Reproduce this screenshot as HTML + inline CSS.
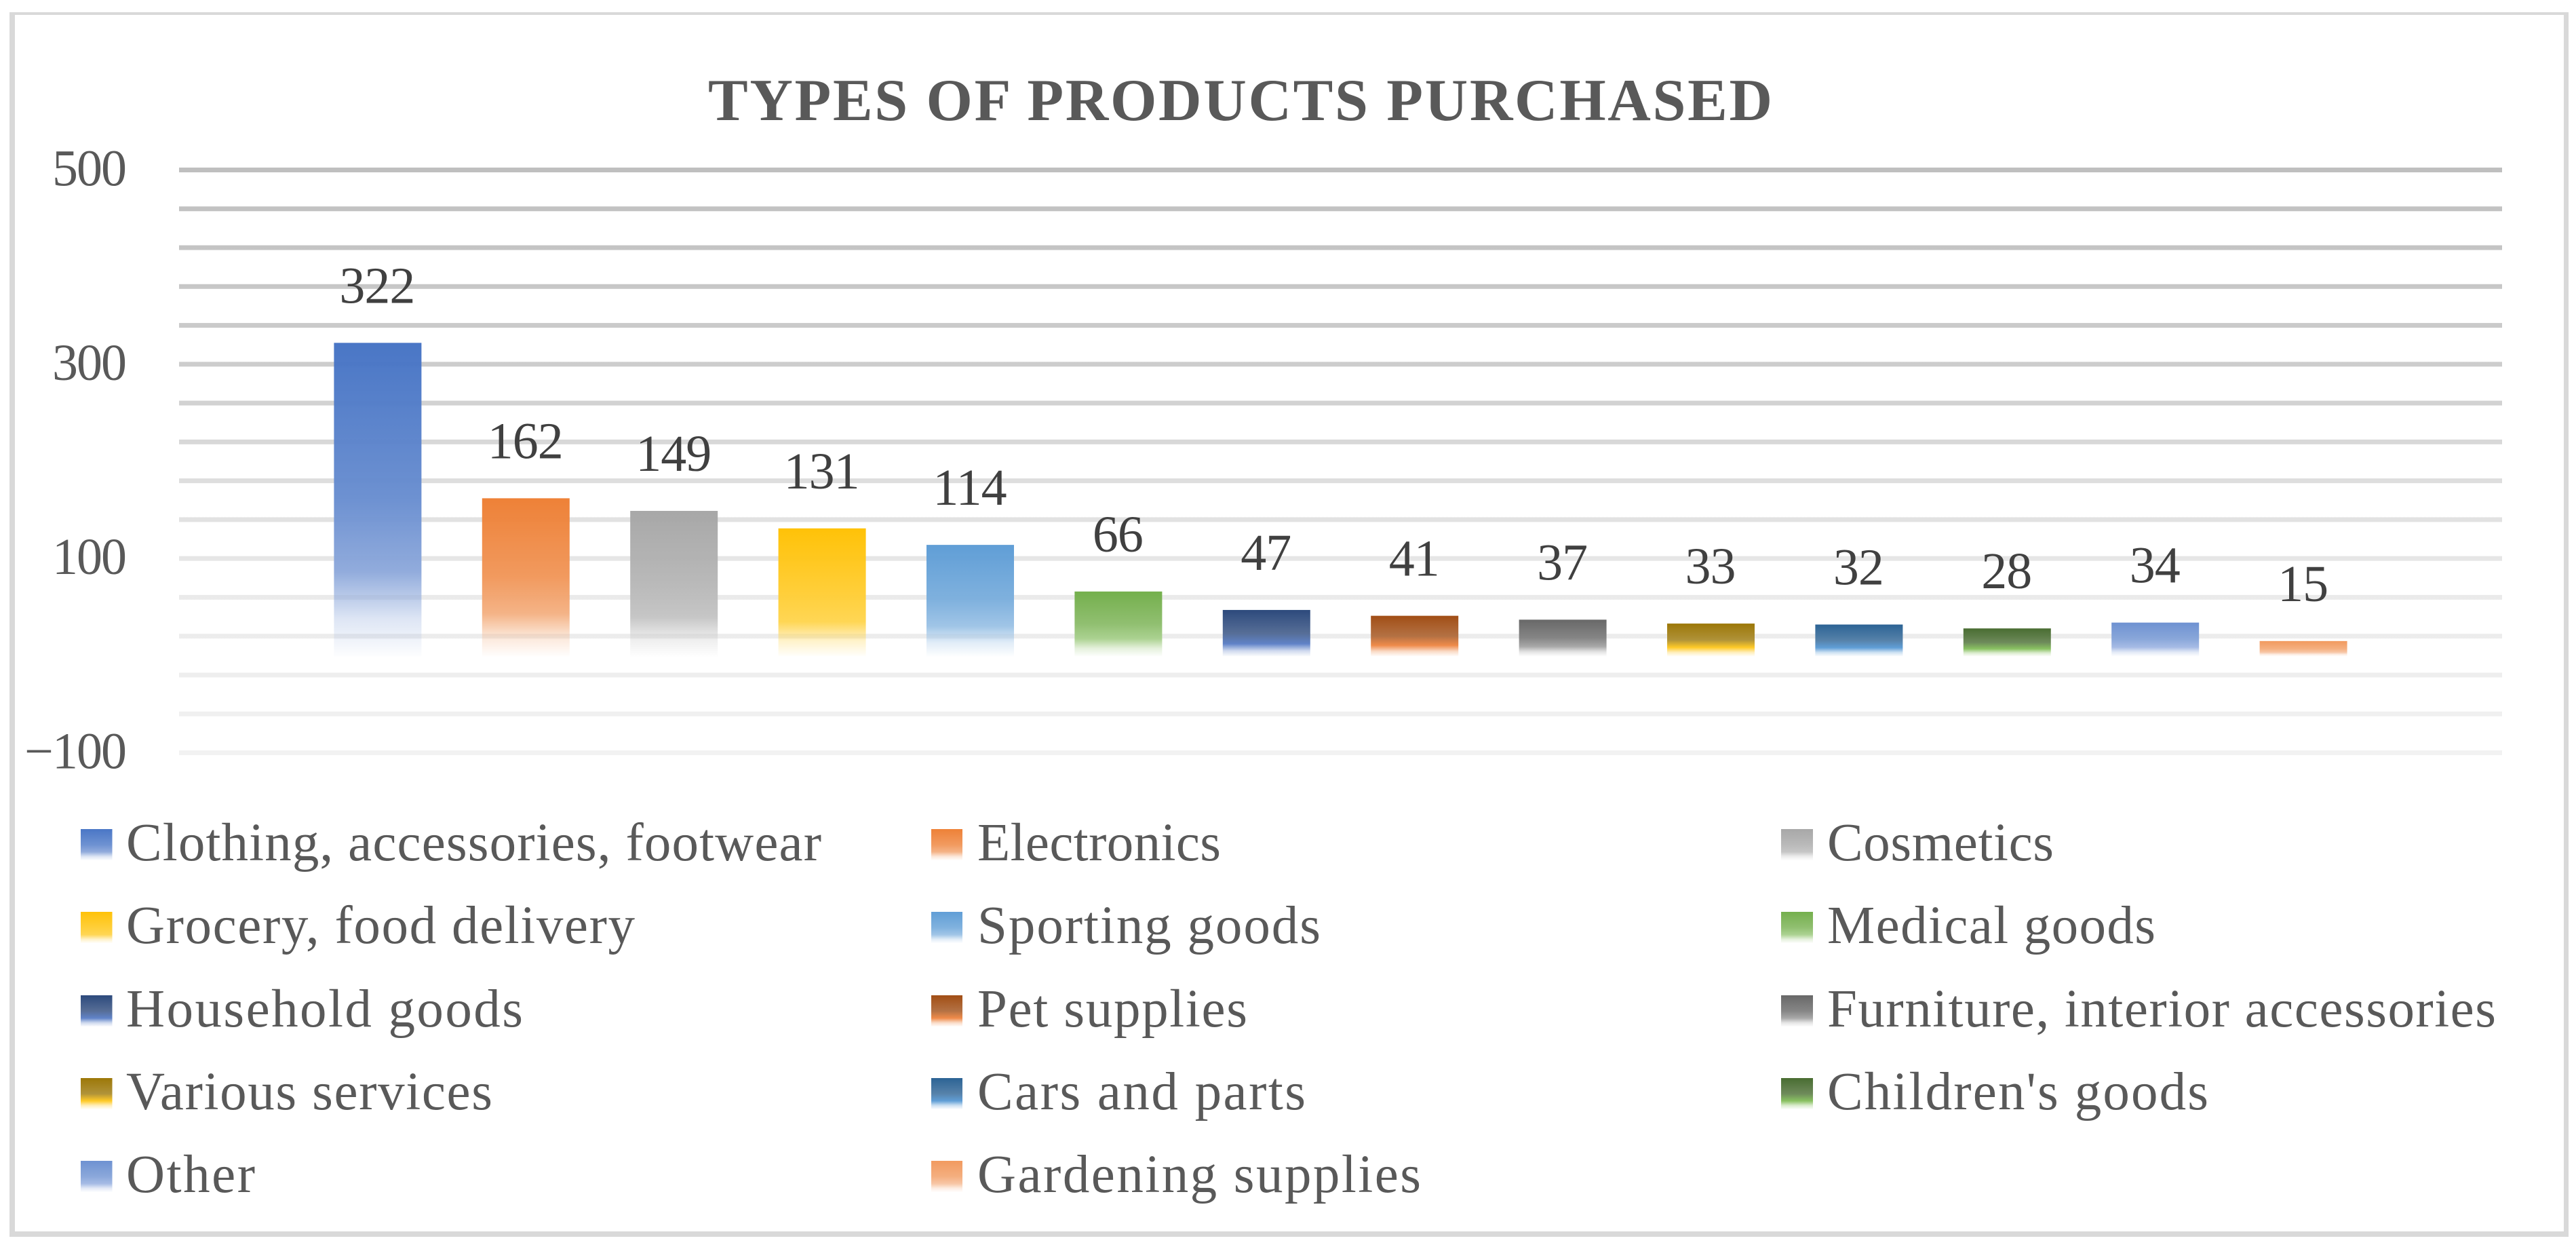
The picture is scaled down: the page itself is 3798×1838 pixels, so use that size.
<!DOCTYPE html>
<html lang="en">
<head>
<meta charset="utf-8">
<title>Types of Products Purchased</title>
<style>
html,body{margin:0;padding:0;background:#fff;}
svg{display:block;font-family:"Liberation Serif",serif;}
.lg{font-size:79px;fill:#595959;}
</style>
</head>
<body>
<svg id="chart" xmlns="http://www.w3.org/2000/svg" width="3798" height="1838" viewBox="0 0 3798 1838">
  <defs id="defs">
    <linearGradient id="grid-fade" gradientUnits="userSpaceOnUse" x1="0" y1="250" x2="0" y2="1110">
      <stop offset="0" stop-color="#bfbfbf"/>
      <stop offset="0.34" stop-color="#cdcdcd"/>
      <stop offset="0.54" stop-color="#dedede"/>
      <stop offset="0.74" stop-color="#ebebeb"/>
      <stop offset="1" stop-color="#f2f2f2"/>
    </linearGradient>
  </defs>
  <rect x="0" y="0" width="3798" height="1838" fill="#ffffff"/>
  <path fill="#d9d9d9" fill-rule="evenodd" d="M14 18H3787V1823H14ZM22 22V1815H3780V22Z"/>
  <text x="1044" y="177" font-size="88" font-weight="bold" fill="#595959" textLength="1569" lengthAdjust="spacing">TYPES OF PRODUCTS PURCHASED</text>
  <g id="grid"></g>
  <g id="yaxis"></g>
  <g id="bars"></g>
  <g id="labels"></g>
  <g id="legend">
    <rect x="119" y="1222" width="46.5" height="46" fill="url(#fill0)"/>
    <text class="lg" x="186" y="1268" textLength="1025">Clothing, accessories, footwear</text>
    <rect x="1373" y="1222" width="46" height="46" fill="url(#fill1)"/>
    <text class="lg" x="1441" y="1268" textLength="359">Electronics</text>
    <rect x="2626" y="1222" width="47" height="46" fill="url(#fill2)"/>
    <text class="lg" x="2694" y="1268" textLength="334">Cosmetics</text>

    <rect x="119" y="1344" width="46.5" height="46" fill="url(#fill3)"/>
    <text class="lg" x="186" y="1390" textLength="750">Grocery, food delivery</text>
    <rect x="1373" y="1344" width="46" height="46" fill="url(#fill4)"/>
    <text class="lg" x="1441" y="1390" textLength="506">Sporting goods</text>
    <rect x="2626" y="1344" width="47" height="46" fill="url(#fill5)"/>
    <text class="lg" x="2694" y="1390" textLength="484">Medical goods</text>

    <rect x="119" y="1467" width="46.5" height="46" fill="url(#fill6)"/>
    <text class="lg" x="186" y="1513" textLength="585">Household goods</text>
    <rect x="1373" y="1467" width="46" height="46" fill="url(#fill7)"/>
    <text class="lg" x="1441" y="1513" textLength="398">Pet supplies</text>
    <rect x="2626" y="1467" width="47" height="46" fill="url(#fill8)"/>
    <text class="lg" x="2694" y="1513" textLength="986">Furniture, interior accessories</text>

    <rect x="119" y="1589" width="46.5" height="46" fill="url(#fill9)"/>
    <text class="lg" x="186" y="1635" textLength="540">Various services</text>
    <rect x="1373" y="1589" width="46" height="46" fill="url(#fill10)"/>
    <text class="lg" x="1441" y="1635" textLength="484">Cars and parts</text>
    <rect x="2626" y="1589" width="47" height="46" fill="url(#fill11)"/>
    <text class="lg" x="2694" y="1635" textLength="562">Children's goods</text>

    <rect x="119" y="1711" width="46.5" height="46" fill="url(#fill12)"/>
    <text class="lg" x="186" y="1757" textLength="190">Other</text>
    <rect x="1373" y="1711" width="46" height="46" fill="url(#fill13)"/>
    <text class="lg" x="1441" y="1757" textLength="654">Gardening supplies</text>
  </g>
</svg>
<script>
const categories = ["Clothing, accessories, footwear","Electronics","Cosmetics","Grocery, food delivery","Sporting goods","Medical goods","Household goods","Pet supplies","Furniture, interior accessories","Various services","Cars and parts","Children's goods","Other","Gardening supplies"];
const values = [322,162,149,131,114,66,47,41,37,33,32,28,34,15];
const tickValues = [500,300,100,-100];
const topColors = ["#4472c4","#ed7d31","#a5a5a5","#ffc000","#5b9bd5","#70ad47","#264478","#9e480e","#636363","#997300","#255e91","#43682b","#698ed0","#f1975a"];
const kneeColors = ["#8ea9db","#f4b183","#c4c4c4","#ffd54f","#9dc3e6","#a9d18e","#5b7fc6","#ee8744","#a5a5a5","#ffc820","#5b9bd5","#85bf5c","#a3b9e4","#f7c4a2"];

const NS = "http://www.w3.org/2000/svg";
const axisMin = -100, axisMax = 500, gridStep = 40;
const plotLeft = 264, plotRight = 3689, plotTop = 250.5, plotBottom = 1109.5;
const band = 218.4, barWidth = 129;

function y(v){ return plotBottom - (v - axisMin) / (axisMax - axisMin) * (plotBottom - plotTop); }
function barX(i){ return (plotLeft + plotRight) / 2 - band * (categories.length - 1) / 2 + band * i - barWidth / 2; }
function make(tag, attrs, parent){
  const el = document.createElementNS(NS, tag);
  for (const k in attrs) el.setAttribute(k, attrs[k]);
  parent.appendChild(el);
  return el;
}
function mixWhite(hex, t){
  const n = parseInt(hex.slice(1), 16);
  const ch = s => Math.round(((n >> s) & 255) * (1 - t) + 255 * t);
  return "rgb(" + ch(16) + "," + ch(8) + "," + ch(0) + ")";
}

const defs = document.getElementById("defs");
categories.forEach((c, i) => {
  const g = make("linearGradient", {id: "fill" + i, x1: 0, y1: 0, x2: 0, y2: 1}, defs);
  
  
  make("stop", {offset: 0, "stop-color": topColors[i], "stop-opacity": 0.97}, g);
  make("stop", {offset: 0.5, "stop-color": mixWhite(topColors[i], 0.2), "stop-opacity": 0.97}, g);
  make("stop", {offset: 0.73, "stop-color": kneeColors[i], "stop-opacity": 0.97}, g);
  make("stop", {offset: 0.88, "stop-color": kneeColors[i], "stop-opacity": 0.3}, g);
  make("stop", {offset: 1, "stop-color": kneeColors[i], "stop-opacity": 0.02}, g);
});

const gridG = document.getElementById("grid");
for (let v = axisMax; v >= axisMin; v -= gridStep) {
  const r = make("rect", {x: plotLeft, y: y(v) - 3.5, width: plotRight - plotLeft, height: 7, fill: "url(#grid-fade)"}, gridG);
  
  
}

const yG = document.getElementById("yaxis");
tickValues.forEach(v => {
  const t = make("text", {x: 185, y: y(v) + 23, "text-anchor": "end", "font-size": 76, "letter-spacing": -2, fill: "#595959"}, yG);
  
  
  t.textContent = v < 0 ? "\u2212" + Math.abs(v) : String(v);
});

const barsG = document.getElementById("bars");
const labelsG = document.getElementById("labels");
values.forEach((v, i) => {
  const top = y(v);
  const base = y(0) + 1;
  const r = make("rect", {x: barX(i), y: top, width: barWidth, height: base - top, fill: "url(#fill" + i + ")"}, barsG);
  
  
  const t = make("text", {x: barX(i) + barWidth / 2 - 1, y: top - 59, "text-anchor": "middle", "font-size": 76, "letter-spacing": -1, fill: "#404040"}, labelsG);
  
  
  t.textContent = String(v);
});
</script>
</body>
</html>
